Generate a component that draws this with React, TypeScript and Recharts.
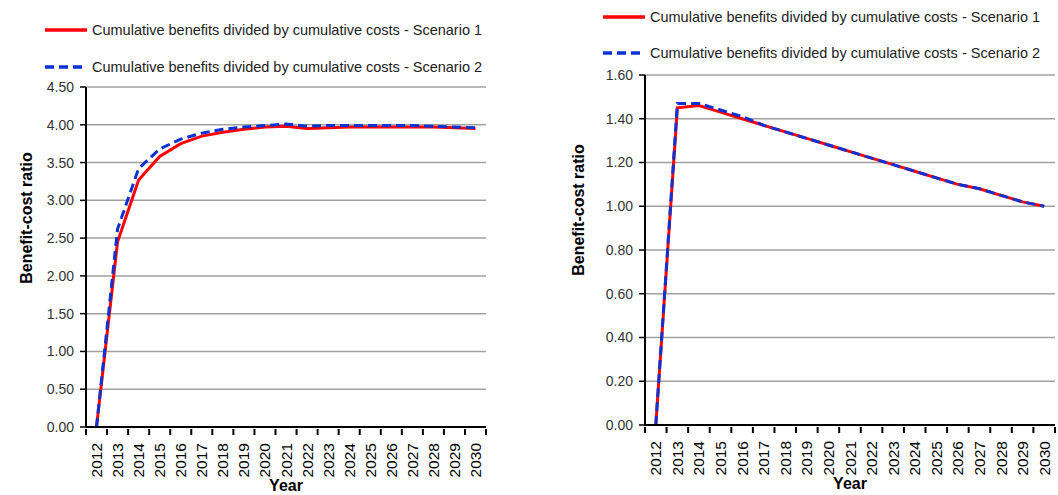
import { LineChart, Line, CartesianGrid, XAxis, YAxis } from "recharts";

const years = ["2012", "2013", "2014", "2015", "2016", "2017", "2018", "2019", "2020", "2021", "2022", "2023", "2024", "2025", "2026", "2027", "2028", "2029", "2030"];

const leftScenario1 = [0, 2.45, 3.27, 3.58, 3.75, 3.85, 3.9, 3.94, 3.97, 3.98, 3.95, 3.96, 3.97, 3.97, 3.97, 3.97, 3.97, 3.96, 3.95];
const leftScenario2 = [0, 2.62, 3.42, 3.68, 3.81, 3.89, 3.94, 3.97, 3.99, 4.01, 3.98, 3.99, 3.99, 3.99, 3.99, 3.99, 3.98, 3.97, 3.96];

const rightScenario1 = [0, 1.45, 1.46, 1.43, 1.4, 1.37, 1.34, 1.31, 1.28, 1.25, 1.22, 1.19, 1.16, 1.13, 1.1, 1.08, 1.05, 1.02, 1.0];
const rightScenario2 = [0, 1.47, 1.47, 1.44, 1.41, 1.37, 1.34, 1.31, 1.28, 1.25, 1.22, 1.19, 1.16, 1.13, 1.1, 1.08, 1.05, 1.02, 1.0];

const leftTicks = [0, 0.5, 1, 1.5, 2, 2.5, 3, 3.5, 4, 4.5];
const rightTicks = [0, 0.2, 0.4, 0.6, 0.8, 1, 1.2, 1.4, 1.6];

const s1Name = "Cumulative benefits divided by cumulative costs - Scenario 1";
const s2Name = "Cumulative benefits divided by cumulative costs - Scenario 2";

const FONT = "'Liberation Sans', Arial, sans-serif";
const RED = "#ff0000";
const BLUE = "#0a32d2";

const makeTick = (half: number, count: number) => (props: any) => {
  const { x, y, payload, index } = props;
  return (
    <g>
      <line x1={x - half} x2={x - half} y1={y - 6} y2={y} stroke="#000" strokeWidth={2} />
      {index === count - 1 && <line x1={x + half} x2={x + half} y1={y - 6} y2={y} stroke="#000" strokeWidth={2} />}
      <text
        x={x}
        y={y + 8}
        transform={`rotate(-90 ${x} ${y + 8})`}
        textAnchor="end"
        dominantBaseline="central"
        fontSize={15.5}
        fontFamily={FONT}
        fill="#000"
      >
        {payload.value}
      </text>
    </g>
  );
};

const makeYLabel = (x: number, y: number) => () => (
  <text
    x={x}
    y={y}
    transform={`rotate(-90 ${x} ${y})`}
    textAnchor="middle"
    dominantBaseline="central"
    fontSize={16}
    fontWeight="bold"
    fontFamily={FONT}
    fill="#000"
  >
    Benefit-cost ratio
  </text>
);

const LegendBox = ({ gap }: { gap: number }) => (
  <div style={{ fontFamily: FONT, fontSize: 14.5, color: "#222" }}>
    {[
      { name: s1Name, color: RED, dash: undefined },
      { name: s2Name, color: BLUE, dash: "9 5" },
    ].map((it, i) => (
      <div key={i} style={{ display: "flex", alignItems: "center", height: 20, marginBottom: i === 0 ? gap : 0, whiteSpace: "nowrap" }}>
        <svg width={44} height={10} style={{ marginRight: 4 }}>
          <line x1={1} x2={43} y1={5} y2={5} stroke={it.color} strokeWidth={3.5} strokeDasharray={it.dash} />
        </svg>
        <span>{it.name}</span>
      </div>
    ))}
  </div>
);

type PanelProps = {
  s1: number[];
  s2: number[];
  ticks: number[];
  domainMax: number;
  width: number;
  margin: { top: number; right: number; left: number; bottom: number };
  half: number;
  legendPos: { left: number; top: number };
  legendGap: number;
  yLabel: { x: number; y: number };
  xAxisHeight: number;
};

function Panel(p: PanelProps) {
  const data = years.map((year, i) => ({ year, s1: p.s1[i], s2: p.s2[i] }));
  return (
    <div style={{ position: "relative", width: p.width, height: 495 }}>
      <LineChart width={p.width} height={495} data={data} margin={p.margin}>
        <CartesianGrid vertical={false} stroke="#a0a0a0" strokeWidth={1.5} />
        <XAxis
          dataKey="year"
          interval={0}
          padding={{ left: p.half, right: p.half }}
          height={p.xAxisHeight}
          axisLine={{ stroke: "#000", strokeWidth: 2 }}
          tickLine={false}
          tick={makeTick(p.half, years.length)}
          label={{ value: "Year", position: "insideBottom", offset: 0, fontSize: 16, fontWeight: "bold", fontFamily: FONT, fill: "#000" }}
        />
        <YAxis
          domain={[0, p.domainMax]}
          ticks={p.ticks}
          interval={0}
          width={60}
          axisLine={{ stroke: "#000", strokeWidth: 2 }}
          tickLine={{ stroke: "#000", strokeWidth: 1.5 }}
          tickSize={6}
          tickMargin={6}
          tickFormatter={(v: number) => v.toFixed(2)}
          tick={{ fontSize: 14, fontFamily: FONT, fill: "#333" }}
          label={makeYLabel(p.yLabel.x, p.yLabel.y)}
        />
        <Line dataKey="s1" name={s1Name} stroke={RED} strokeWidth={3} dot={false} isAnimationActive={false} type="linear" />
        <Line dataKey="s2" name={s2Name} stroke={BLUE} strokeWidth={3} strokeDasharray="9 5" dot={false} isAnimationActive={false} type="linear" />
      </LineChart>
      <div style={{ position: "absolute", left: p.legendPos.left, top: p.legendPos.top }}>
        <LegendBox gap={p.legendGap} />
      </div>
    </div>
  );
}

export default function App() {
  return (
    <div style={{ position: "absolute", left: 0, top: 0, width: 1058, height: 495, background: "#fff", display: "flex" }}>
      <Panel
        s1={leftScenario1}
        s2={leftScenario2}
        ticks={leftTicks}
        domainMax={4.5}
        width={540}
        margin={{ top: 87, right: 54, left: 26, bottom: 4 }}
        half={10.5}
        legendPos={{ left: 44, top: 20 }}
        legendGap={17}
        yLabel={{ x: 26, y: 218 }}
        xAxisHeight={64}
      />
      <Panel
        s1={rightScenario1}
        s2={rightScenario2}
        ticks={rightTicks}
        domainMax={1.6}
        width={518}
        margin={{ top: 75, right: 3, left: 45, bottom: 6 }}
        half={10.8}
        legendPos={{ left: 62, top: 7 }}
        legendGap={16}
        yLabel={{ x: 38, y: 210 }}
        xAxisHeight={64}
      />
    </div>
  );
}
